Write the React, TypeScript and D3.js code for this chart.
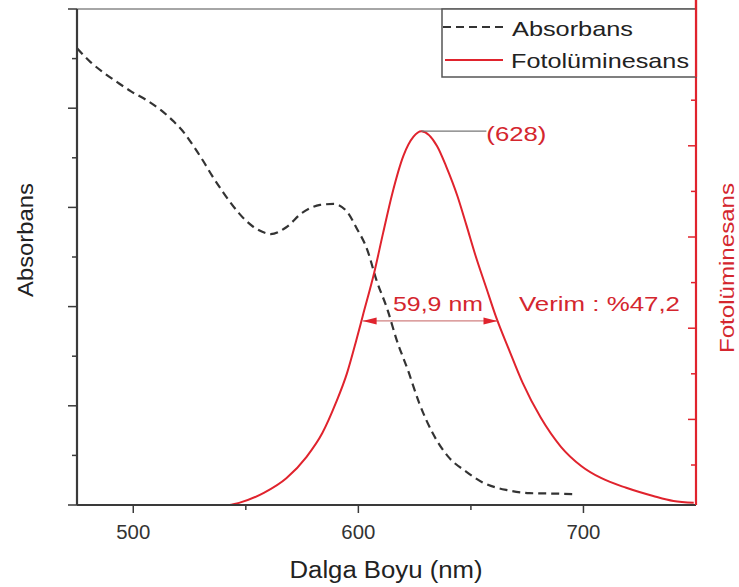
import React from "react";
import * as d3 from "d3";

// Absorbance (dashed black), wavelength nm -> absorbance (a.u.)
const absWl = [475, 481, 487, 493, 499, 506, 512, 518, 523, 527, 531, 535, 540, 543, 547, 553, 559, 561, 568, 575, 583, 589, 595, 599, 604, 608, 613, 617, 622, 627, 633, 640, 648, 655, 666, 676, 687, 696];
const absVal = [0.921, 0.893, 0.871, 0.852, 0.834, 0.816, 0.797, 0.773, 0.748, 0.722, 0.694, 0.664, 0.63, 0.611, 0.588, 0.562, 0.548, 0.546, 0.56, 0.589, 0.605, 0.607, 0.591, 0.56, 0.514, 0.454, 0.393, 0.333, 0.272, 0.206, 0.145, 0.097, 0.067, 0.046, 0.03, 0.024, 0.023, 0.022];

// Photoluminescence (solid red), wavelength nm -> intensity (a.u.)
const plWl = [542, 547, 558, 568, 577, 584, 590, 595, 599, 602, 607, 611, 615, 620, 624.5, 628, 635, 639, 644, 648, 652, 657, 661, 667, 673, 681, 690, 699, 708, 719, 731, 740, 749];
const plVal = [0.12, 0.17, 0.39, 0.71, 1.18, 1.7, 2.36, 3.02, 3.72, 4.28, 5.21, 6.09, 6.94, 7.78, 8.2, 8.32, 7.99, 7.55, 6.9, 6.26, 5.6, 4.86, 4.27, 3.52, 2.8, 2.04, 1.4, 0.98, 0.71, 0.5, 0.32, 0.21, 0.17];

const xTicksMajor = [500, 600, 700];
const xTicksMinor = [550, 650];
const leftTicks = [0, 0.1, 0.2, 0.3, 0.4, 0.5, 0.6, 0.7, 0.8, 0.9, 1.0];
const rightTicks = [1, 2, 3, 4, 5, 6, 7, 8, 9, 10];

const peakWl = 628;
const peakVal = 8.32;
const fwhmLeft = 601.9;
const fwhmRight = 661.8;
const peakLabel = "(628)";
const fwhmLabel = "59,9 nm";
const yieldLabel = "Verim : %47,2";

const RED = "#e0232d";
const TXT_RED = "#d4262e";
const AX = "#3a3a3a";
const FONT = "'Liberation Sans', Arial, sans-serif";

export default function App() {
  const x = d3.scaleLinear().domain([475, 750]).range([77, 696]);
  const yL = d3.scaleLinear().domain([0, 1]).range([505, 9]);
  const yR = d3.scaleLinear().domain([0.123, 11.0]).range([505, 9]);

  const absLine = d3
    .line<number>()
    .x((_, i) => x(absWl[i]))
    .y((d) => yL(d))
    .curve(d3.curveMonotoneX);
  const plLine = d3
    .line<number>()
    .x((_, i) => x(plWl[i]))
    .y((d) => yR(d))
    .curve(d3.curveMonotoneX);

  const halfY = yR(peakVal / 2);
  const xl = x(fwhmLeft);
  const xr = x(fwhmRight);
  const px = x(peakWl);
  const py = yR(peakVal);

  return (
    <svg
      width={739}
      height={587}
      style={{ position: "absolute", left: 0, top: 0, background: "#fff" }}
      fontFamily={FONT}
    >
      <rect x={0} y={0} width={739} height={587} fill="#fff" />
      {/* top frame */}
      <line x1={x(475)} x2={x(750)} y1={9} y2={9} stroke="#888" strokeWidth={1.5} />

      {/* curves */}
      <path d={absLine(absVal) || ""} fill="none" stroke="#333" strokeWidth={2.2} strokeDasharray="8,5" />
      <path d={plLine(plVal) || ""} fill="none" stroke={RED} strokeWidth={2} />

      {/* left axis */}
      <line x1={77} x2={77} y1={9} y2={505} stroke={AX} strokeWidth={2.2} />
      {leftTicks.map((t, i) => (
        <line key={"l" + i} x1={77} x2={i % 2 === 0 ? 68 : 72} y1={yL(t)} y2={yL(t)} stroke={AX} strokeWidth={1.5} />
      ))}

      {/* bottom axis */}
      <line x1={x(475)} x2={x(750)} y1={505} y2={505} stroke={AX} strokeWidth={2.2} />
      {xTicksMajor.map((t) => (
        <g key={"xm" + t}>
          <line x1={x(t)} x2={x(t)} y1={505} y2={513} stroke={AX} strokeWidth={1.5} />
          <text x={x(t)} y={539} textAnchor="middle" fontSize={20} fill="#333" textLength={34} lengthAdjust="spacingAndGlyphs">
            {t}
          </text>
        </g>
      ))}
      {xTicksMinor.map((t) => (
        <line key={"xn" + t} x1={x(t)} x2={x(t)} y1={505} y2={510} stroke={AX} strokeWidth={1.5} />
      ))}
      <text x={386} y={578} textAnchor="middle" fontSize={23} fill="#222" textLength={193} lengthAdjust="spacingAndGlyphs">
        Dalga Boyu (nm)
      </text>

      {/* right axis */}
      {rightTicks.map((t) => (
        <line key={"r" + t} x1={696} x2={t % 2 === 0 ? 688 : 691} y1={yR(t)} y2={yR(t)} stroke={RED} strokeWidth={1.5} />
      ))}
      <line x1={696} x2={696} y1={0} y2={505} stroke={RED} strokeWidth={2.2} />

      {/* axis titles */}
      <text transform="translate(33,240) rotate(-90)" textAnchor="middle" fontSize={22} fill="#222" textLength={114} lengthAdjust="spacingAndGlyphs">
        Absorbans
      </text>
      <text transform="translate(734,268) rotate(-90)" textAnchor="middle" fontSize={20} fill={TXT_RED} textLength={170} lengthAdjust="spacingAndGlyphs">
        Fotolüminesans
      </text>

      {/* legend */}
      <rect x={442} y={9} width={254} height={68} fill="#fff" stroke="#555" strokeWidth={1.5} />
      <line x1={443} x2={508} y1={27} y2={27} stroke="#333" strokeWidth={2} strokeDasharray="8,5" />
      <text x={512} y={36} fontSize={21} fill="#222" textLength={121} lengthAdjust="spacingAndGlyphs">
        Absorbans
      </text>
      <line x1={445} x2={503} y1={60} y2={60} stroke={RED} strokeWidth={2} />
      <text x={511} y={68} fontSize={21} fill="#222" textLength={178} lengthAdjust="spacingAndGlyphs">
        Fotolüminesans
      </text>
      <line x1={696} x2={696} y1={0} y2={77} stroke={RED} strokeWidth={2.2} />

      {/* peak annotation */}
      <line x1={px} x2={px + 65} y1={py} y2={py} stroke="#777" strokeWidth={1.2} />
      <text x={px + 65} y={141} fontSize={20} fill={TXT_RED} textLength={60} lengthAdjust="spacingAndGlyphs">
        {peakLabel}
      </text>

      {/* FWHM annotation */}
      <line x1={xl} x2={xr} y1={halfY} y2={halfY} stroke="#c46060" strokeWidth={1} />
      <path d={`M${xl},${halfY} L${xl + 14},${halfY - 3.5} L${xl + 14},${halfY + 3.5} Z`} fill={RED} />
      <path d={`M${xr},${halfY} L${xr - 14},${halfY - 3.5} L${xr - 14},${halfY + 3.5} Z`} fill={RED} />
      <text x={393} y={311} fontSize={21} fill={TXT_RED} textLength={90} lengthAdjust="spacingAndGlyphs">
        {fwhmLabel}
      </text>
      <text x={519} y={311} fontSize={21} fill={TXT_RED} textLength={161} lengthAdjust="spacingAndGlyphs">
        {yieldLabel}
      </text>
    </svg>
  );
}
